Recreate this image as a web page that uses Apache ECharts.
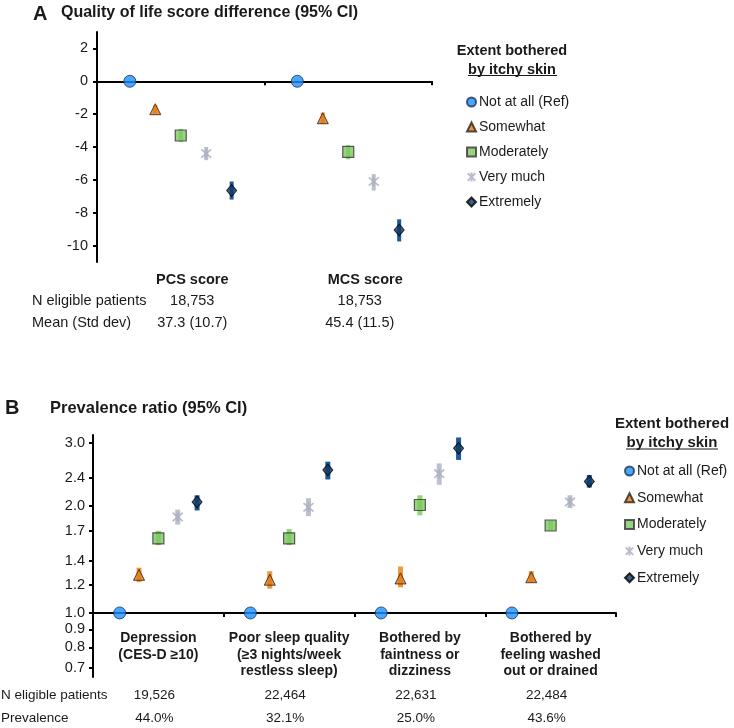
<!DOCTYPE html>
<html><head><meta charset="utf-8">
<script src="https://cdn.jsdelivr.net/npm/echarts@6/dist/echarts.min.js"></script>
<style>html,body{margin:0;padding:0;background:#fff}#c{width:734px;height:728px}</style>
</head><body><div id="c"></div>
<script>
// ---------------- DATA ----------------
const levels = ['Not at all (Ref)', 'Somewhat', 'Moderately', 'Very much', 'Extremely'];

// Panel A: quality of life score difference
const categoriesA = ['PCS score', 'MCS score'];
const pcsEst  = [0, -1.7, -3.3, -4.4, -6.65];
const pcsLow  = [0, -1.95, -3.7, -4.8, -7.2];
const pcsHigh = [0, -1.45, -2.9, -4.0, -6.1];
const mcsEst  = [0, -2.25, -4.3, -6.1, -9.05];
const mcsLow  = [0, -2.6, -4.75, -6.65, -9.75];
const mcsHigh = [0, -1.9, -3.9, -5.65, -8.4];
const nEligibleA = ['18,753', '18,753'];
const meanSdA = ['37.3 (10.7)', '45.4 (11.5)'];
const ticksA = [-10, -8, -6, -4, -2, 0, 2];

// Panel B: prevalence ratio
const categoriesB = ['Depression\n(CES-D ≥10)', 'Poor sleep quality\n(≥3 nights/week\nrestless sleep)',
  'Bothered by\nfaintness or\ndizziness', 'Bothered by\nfeeling washed\nout or drained'];
const depEst    = [1, 1.28, 1.62, 1.86, 2.05];
const depLow    = [1, 1.22, 1.55, 1.77, 1.94];
const depHigh   = [1, 1.34, 1.70, 1.95, 2.14];
const sleepEst  = [1, 1.24, 1.62, 1.98, 2.52];
const sleepLow  = [1, 1.17, 1.55, 1.87, 2.37];
const sleepHigh = [1, 1.31, 1.72, 2.10, 2.66];
const faintEst  = [1, 1.25, 2.01, 2.46, 2.90];
const faintLow  = [1, 1.18, 1.88, 2.29, 2.69];
const faintHigh = [1, 1.35, 2.14, 2.63, 3.11];
const washEst   = [1, 1.26, 1.76, 2.05, 2.34];
const washLow   = [1, 1.22, 1.70, 1.97, 2.25];
const washHigh  = [1, 1.31, 1.82, 2.14, 2.44];
const nEligibleB = ['19,526', '22,464', '22,631', '22,484'];
const prevalenceB = ['44.0%', '32.1%', '25.0%', '43.6%'];
const ticksB = [0.7, 0.8, 0.9, 1.0, 1.2, 1.4, 1.7, 2.0, 2.4, 3.0];

// ---------------- STYLE ----------------
const FONT = '"Liberation Sans", Arial, Helvetica, sans-serif';
const TXT = '#1a1a1a';
const fills   = ['#1E90FF', '#E07B1A', '#7DC863', '#AAAFC0', '#0D3A66'];
const borders = ['#1B3556', '#2A2015', '#333333', '#AAAFC0', '#000000'];
const ciCols  = [null, '#EE9A3C', '#8ED872', '#BDC1CD', '#1A5A9A'];
const ASTER = 'path://M0,1L10,11M10,1L0,11M5,0L5,12';
const symbols = ['circle', 'triangle', 'rect', ASTER, 'diamond'];
const symSizes = [12, 11, 11, 10, [10, 12]];
const borderW = [1, 1, 1.2, 1.8, 1];
const slotA = 0.152, slotB = 0.148;

const estA = [pcsEst, mcsEst], lowA = [pcsLow, mcsLow], highA = [pcsHigh, mcsHigh];
const estB = [depEst, sleepEst, faintEst, washEst];
const lowB = [depLow, sleepLow, faintLow, washLow];
const highB = [depHigh, sleepHigh, faintHigh, washHigh];

function ciSeries(name, xIdx, yIdx, data, color, w) {
  return {
    type: 'custom', name: name, xAxisIndex: xIdx, yAxisIndex: yIdx, z: 2, silent: true,
    encode: { x: 0, y: [1, 2] },
    data: data,
    renderItem: function (params, api) {
      const x = api.value(0);
      const p1 = api.coord([x, api.value(1)]);
      const p2 = api.coord([x, api.value(2)]);
      return { type: 'rect', shape: { x: p1[0] - w / 2, y: p2[1], width: w, height: p1[1] - p2[1] },
        style: { fill: color } };
    }
  };
}

const series = [];
levels.forEach(function (lv, k) {
  const st = { color: fills[k], borderColor: borders[k], borderWidth: borderW[k] };
  // Panel A
  const dA = categoriesA.map(function (c, i) { return [i + 0.5 + (k - 2) * slotA, estA[i][k]]; });
  series.push({ type: 'scatter', name: lv, xAxisIndex: 2, yAxisIndex: 0, z: 5, symbol: symbols[k],
    symbolSize: symSizes[k], itemStyle: st, data: dA });
  // Panel B
  const dB = categoriesB.map(function (c, i) { return [i + 0.5 + (k - 2) * slotB, estB[i][k]]; });
  series.push({ type: 'scatter', name: lv, xAxisIndex: 3, yAxisIndex: 1, z: 5, symbol: symbols[k],
    symbolSize: symSizes[k], itemStyle: st, data: dB });
  if (k > 0) {
    series.push(ciSeries('ciA' + k, 2, 0,
      categoriesA.map(function (c, i) { return [i + 0.5 + (k - 2) * slotA, lowA[i][k], highA[i][k]]; }), ciCols[k], 4));
    series.push(ciSeries('ciB' + k, 3, 1,
      categoriesB.map(function (c, i) { return [i + 0.5 + (k - 2) * slotB, lowB[i][k], highB[i][k]]; }), ciCols[k], 5));
  }
});

const legendData = levels.map(function (lv, k) { return { name: lv, icon: symbols[k] }; });
function legend(left, top, gap) {
  return { orient: 'vertical', left: left, top: top, padding: 0, itemGap: gap, itemWidth: 9, itemHeight: 9,
    selectedMode: false, data: legendData,
    textStyle: { fontFamily: FONT, fontSize: 14, color: TXT, padding: [0, 0, 0, -2] } };
}

const axisLineStyle = { color: '#000', width: 2 };
const option = {
  animation: false,
  backgroundColor: '#fff',
  grid: [
    { left: 97, top: 32, width: 335, height: 230 },
    { left: 93, top: 435, width: 523, height: 242 },
    { left: 93, top: 435, width: 523, height: 178 }
  ],
  xAxis: [
    { type: 'category', gridIndex: 0, data: categoriesA, position: 'bottom', boundaryGap: true,
      axisLine: { onZero: true, lineStyle: axisLineStyle },
      axisTick: { show: true, length: 4, interval: 0, lineStyle: axisLineStyle }, axisLabel: { show: false } },
    { type: 'category', gridIndex: 0, data: categoriesA, position: 'bottom',
      axisLine: { show: false, onZero: false }, axisTick: { show: false },
      axisLabel: { interval: 0, margin: 10, fontFamily: FONT, fontSize: 14.5, fontWeight: 'bold', color: TXT,
        formatter: function (v, i) { return '{p' + i + '|' + v + '}'; },
        rich: { p0: { padding: [0, 0, 0, 23] }, p1: { padding: [0, 0, 0, 34] } } } },
    { type: 'value', gridIndex: 0, min: 0, max: 2, show: false },
    { type: 'value', gridIndex: 1, min: 0, max: 4, show: false },
    { type: 'category', gridIndex: 2, data: categoriesB, position: 'bottom', boundaryGap: true,
      axisLine: { onZero: false, lineStyle: axisLineStyle },
      axisTick: { show: true, length: 4, interval: 0, lineStyle: axisLineStyle },
      axisLabel: { interval: 0, margin: 17, fontFamily: FONT, fontSize: 14, fontWeight: 'bold', color: TXT,
        lineHeight: 16.5, verticalAlign: 'top' } }
  ],
  yAxis: [
    { type: 'value', gridIndex: 0, min: -11, max: 3, splitLine: { show: false },
      axisLine: { show: true, onZero: false, lineStyle: axisLineStyle },
      axisTick: { show: true, length: 4, customValues: ticksA, lineStyle: axisLineStyle },
      axisLabel: { customValues: ticksA, margin: 9, fontFamily: FONT, fontSize: 14.5, color: TXT } },
    { type: 'log', gridIndex: 1, min: 0.661, max: 3.16, splitLine: { show: false }, minorTick: { show: false },
      axisLine: { show: true, onZero: false, lineStyle: axisLineStyle },
      axisTick: { show: true, length: 4, customValues: ticksB, lineStyle: axisLineStyle },
      axisLabel: { customValues: ticksB, margin: 8, fontFamily: FONT, fontSize: 14.5, color: TXT,
        formatter: function (v) { return Number(v).toFixed(1); } } },
    { type: 'value', gridIndex: 2, min: 0, max: 1, show: false }
  ],
  legend: [legend(466, 95, 11), legend(624, 464, 12.7)],
  series: series
};

const chart = echarts.init(document.getElementById('c'));
chart.setOption(option);

// ---------------- TEXT / TABLE ----------------
function txt(x, y, s, size, bold, align) {
  return { type: 'text', x: x, y: y, silent: true,
    style: { text: s, fontFamily: FONT, fontSize: size, fontWeight: bold ? 'bold' : 'normal', fill: TXT,
      align: align || 'left', verticalAlign: 'middle' } };
}
const g = [
  txt(33, 14, 'A', 20, true), txt(61, 13, 'Quality of life score difference (95% CI)', 16, true),
  txt(5, 408, 'B', 20, true), txt(50, 408, 'Prevalence ratio (95% CI)', 16.5, true),
  txt(512, 51, 'Extent bothered', 14.5, true, 'center'), txt(512, 69.5, 'by itchy skin', 14.5, true, 'center'),
  { type: 'line', silent: true, shape: { x1: 468, y1: 75.5, x2: 557, y2: 75.5 }, style: { stroke: TXT, lineWidth: 1.2 } },
  txt(672, 424, 'Extent bothered', 15, true, 'center'), txt(672, 442.5, 'by itchy skin', 15, true, 'center'),
  { type: 'line', silent: true, shape: { x1: 626, y1: 449, x2: 718, y2: 449 }, style: { stroke: TXT, lineWidth: 1.2 } },
  txt(32, 301, 'N eligible patients', 14.5), txt(32, 323, 'Mean (Std dev)', 14.5),
  txt(1, 695, 'N eligible patients', 13.5), txt(1, 718, 'Prevalence', 13.5)
];
categoriesA.forEach(function (c, i) {
  const x = chart.convertToPixel({ xAxisIndex: 0 }, i) + 11.5;
  g.push(txt(x, 301, nEligibleA[i], 14.5, false, 'center'));
  g.push(txt(x, 323, meanSdA[i], 14.5, false, 'center'));
});
categoriesB.forEach(function (c, i) {
  const x = chart.convertToPixel({ xAxisIndex: 4 }, i) - 4;
  g.push(txt(x, 695, nEligibleB[i], 13.5, false, 'center'));
  g.push(txt(x, 718, prevalenceB[i], 13.5, false, 'center'));
});
chart.setOption({ graphic: g });
</script>
</body></html>
